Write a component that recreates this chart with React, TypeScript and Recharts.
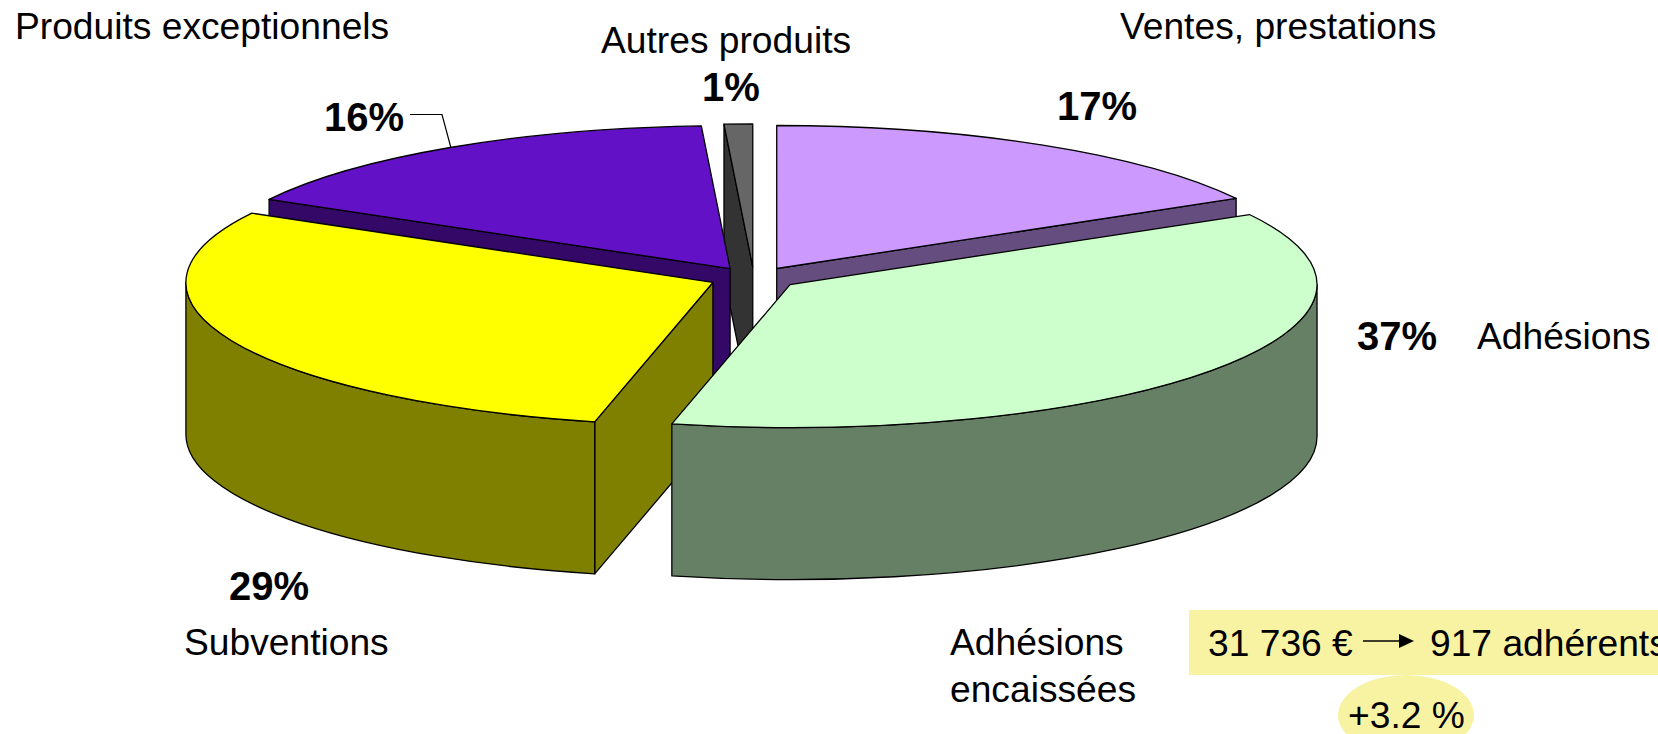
import { PieChart, Pie } from 'recharts';

const categories = ['Ventes, prestations', 'Autres produits', 'Produits exceptionnels', 'Subventions', 'Adhésions'];
const shares = [16.85, 0.87, 16.08, 29.45, 36.75];
const topColors = ['#cc99ff', '#666666', '#6311c6', '#ffff00', '#ccffcc'];
const sideColors = ['#664d80', '#333333', '#330866', '#808000', '#668066'];

const data = categories.map((name, i) => ({ name, value: shares[i] }));

const W = 1658;
const H = 734;
const CX = 754;
const CY = 278;
const RX = 527;
const RY = 143;
const DEPTH = 152;
const EXPLODE_X = 45;
const EXPLODE_Y = 11;
const FONT = '"Liberation Sans", Arial, sans-serif';

const rad = (d: number) => (d * Math.PI) / 180;
const pct = (v: number) => `${Math.round(v)}%`;

// the pie runs counter-clockwise so that slices are painted back to front
const startAngle = 90 - (360 * shares[0]) / 100;

const Slice3D = (props: any) => {
    const i = categories.indexOf(props.name ?? props.payload?.name);
    const sweep = props.endAngle - props.startAngle;
    let s = 90 - props.endAngle; // clockwise from the top
    while (s < 0) s += 360;
    const e = s + sweep;
    const mid = (s + e) / 2;
    const ox = props.cx + Math.sin(rad(mid)) * EXPLODE_X;
    const oy = props.cy - Math.cos(rad(mid)) * EXPLODE_Y;
    const rx = props.outerRadius;
    const ry = (rx * RY) / RX;
    const px = (a: number) => ox + rx * Math.sin(rad(a));
    const py = (a: number, d = 0) => oy - ry * Math.cos(rad(a)) + d;
    const large = sweep > 180 ? 1 : 0;

    const top = `M${ox} ${oy}L${px(s)} ${py(s)}A${rx} ${ry} 0 ${large} 1 ${px(e)} ${py(e)}Z`;
    const radial = (a: number) =>
        `M${ox} ${oy}L${px(a)} ${py(a)}L${px(a)} ${py(a, DEPTH)}L${ox} ${oy + DEPTH}Z`;

    const walls: string[] = [];
    if (Math.sin(rad(e)) > 0.001) walls.push(radial(e));
    if (Math.sin(rad(s)) < -0.001) walls.push(radial(s));
    const a1 = Math.max(s, 90);
    const a2 = Math.min(e, 270);
    if (a2 > a1) {
        walls.push(
            `M${px(a1)} ${py(a1)}A${rx} ${ry} 0 0 1 ${px(a2)} ${py(a2)}L${px(a2)} ${py(a2, DEPTH)}A${rx} ${ry} 0 0 0 ${px(a1)} ${py(a1, DEPTH)}Z`
        );
    }

    return (
        <g>
            {walls.map((d, k) => (
                <path key={k} d={d} fill={sideColors[i]} stroke="#000" strokeWidth={1.3} strokeLinejoin="round" />
            ))}
            <path d={top} fill={topColors[i]} stroke="#000" strokeWidth={1.3} strokeLinejoin="round" />
        </g>
    );
};

const names = [
    { text: 'Produits exceptionnels', x: 15, y: 39 },
    { text: 'Autres produits', x: 601, y: 53 },
    { text: 'Ventes, prestations', x: 1120, y: 39 },
    { text: 'Adhésions', x: 1477, y: 349 },
    { text: 'Subventions', x: 184, y: 655 },
    { text: 'Adhésions', x: 950, y: 655 },
    { text: 'encaissées', x: 950, y: 702 },
];

const percents = [
    { text: pct(shares[0]), x: 1057, y: 120 },
    { text: pct(shares[1]), x: 702, y: 101 },
    { text: pct(shares[2]), x: 324, y: 131 },
    { text: pct(shares[3]), x: 229, y: 600 },
    { text: pct(shares[4]), x: 1357, y: 350 },
];

const App = () => {
    return (
        <div style={{ position: 'absolute', left: 0, top: 0, width: W, height: H, overflow: 'hidden', background: '#fff' }}>
            <PieChart width={W} height={H} margin={{ top: 0, right: 0, bottom: 0, left: 0 }}>
                <Pie
                    data={data}
                    dataKey="value"
                    nameKey="name"
                    cx={CX}
                    cy={CY}
                    outerRadius={RX}
                    startAngle={startAngle}
                    endAngle={startAngle + 360}
                    isAnimationActive={false}
                    shape={Slice3D}
                    activeShape={Slice3D}
                    inactiveShape={Slice3D}
                    stroke="#000"
                />
                <path d="M410 114.5H442L451 148" fill="none" stroke="#000" strokeWidth={1.2} />
                <rect x={1189} y={610} width={469} height={65} fill="#f8f3a3" />
                <ellipse cx={1406} cy={715} rx={68} ry={40} fill="#f8f3a3" />
                <line x1={1363} y1={641} x2={1400} y2={641} stroke="#000" strokeWidth={1.5} />
                <polygon points="1399,634 1414,641 1399,648" fill="#000" />
                {names.map((t) => (
                    <text key={t.text + t.x} x={t.x} y={t.y} fontFamily={FONT} fontSize={37.2} fill="#000">
                        {t.text}
                    </text>
                ))}
                {percents.map((t) => (
                    <text key={t.text} x={t.x} y={t.y} fontFamily={FONT} fontSize={40} fontWeight="bold" fill="#000">
                        {t.text}
                    </text>
                ))}
                <text x={1208} y={656} fontFamily={FONT} fontSize={37.2} fill="#000">31 736 €</text>
                <text x={1430} y={656} fontFamily={FONT} fontSize={37.2} fill="#000">917 adhérents</text>
                <text x={1348} y={728} fontFamily={FONT} fontSize={37.2} fill="#000">+3.2 %</text>
            </PieChart>
        </div>
    );
};

export default App;
